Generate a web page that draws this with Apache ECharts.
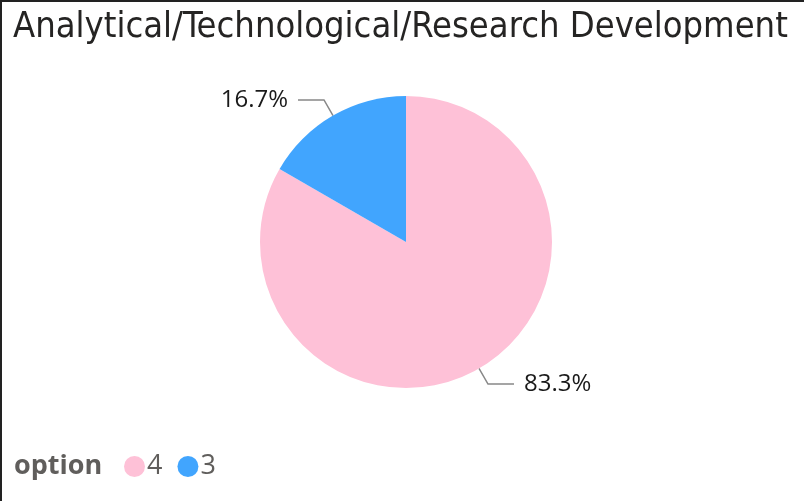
<!DOCTYPE html>
<html>
<head>
<meta charset="utf-8">
<script src="https://cdn.jsdelivr.net/npm/echarts@6/dist/echarts.min.js"></script>
<style>
  html, body { margin: 0; padding: 0; background: #fff; }
  #box { position: absolute; left: 0; top: 0; width: 804px; height: 501px; box-sizing: border-box; border-top: 2px solid #222; border-left: 2px solid #222; }
  #chart { width: 802px; height: 499px; }
</style>
</head>
<body>
<div id="box"><div id="chart"></div></div>
<script>
var options = ['4', '3']
var counts = [5, 1]
var colors = ['#FEC1D7', '#41A5FE']

var chart = echarts.init(document.getElementById('chart'))
var data = options.map(function (name, i) {
    return { name: name, value: counts[i], itemStyle: { color: colors[i] } }
})
chart.setOption({
    animation: false,
    title: {
        text: 'Analytical/Technological/Research Development',
        left: 6,
        top: 3,
        textStyle: {
            fontFamily: 'DejaVu Sans Condensed',
            fontWeight: 'normal',
            fontSize: 36,
            color: '#252423'
        }
    },
    legend: {
        data: options,
        left: 117,
        top: 446,
        icon: 'circle',
        itemWidth: 21,
        itemHeight: 21,
        itemGap: 15,
        selectedMode: false,
        textStyle: {
            fontFamily: 'Open Sans',
            fontSize: 27,
            color: '#605E5C',
            padding: [0, 0, 0, -3]
        }
    },
    graphic: [{
        type: 'text',
        left: 12,
        top: 451,
        style: {
            text: 'option',
            fontFamily: 'Open Sans',
            fontWeight: 'bold',
            fontSize: 27,
            fill: '#605E5C'
        }
    }],
    series: [{
        type: 'pie',
        center: [404, 240],
        radius: 146,
        startAngle: 90,
        clockwise: true,
        data: data,
        label: {
            formatter: function (p) { return p.percent.toFixed(1) + '%' },
            fontFamily: 'Open Sans',
            fontSize: 24,
            color: '#1a1a1a',
            distanceToLabelLine: 10
        },
        labelLine: {
            length: 18,
            length2: 26,
            lineStyle: { color: '#888', width: 1.5 }
        },
        emphasis: { disabled: true }
    }]
})
</script>
</body>
</html>
